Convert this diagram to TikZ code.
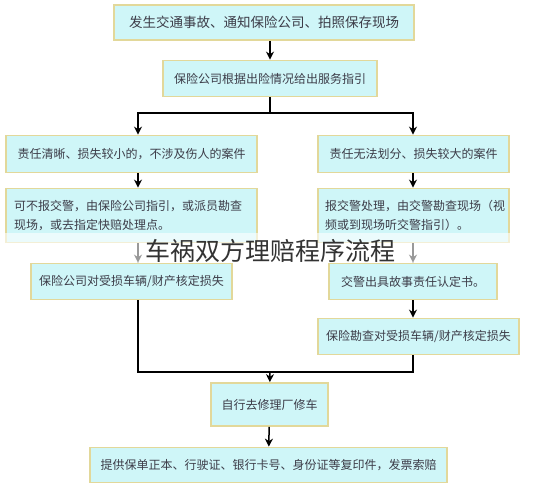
\documentclass[tikz,border=0pt]{standalone}
\usepackage{fontspec}
\setmainfont{Noto Sans CJK SC}
\usepackage{tikz}
\usetikzlibrary{arrows, arrows.meta, positioning}
\definecolor{boxfill}{HTML}{CFF6F8}
\definecolor{boxline}{HTML}{E2D89A}
\definecolor{boxtext}{HTML}{3C3C48}
\tikzstyle{box} = [rectangle, draw=boxline, line width=1.8pt, fill=boxfill, text=boxtext, font=\fontsize{12}{19}\selectfont, inner sep=2pt]
\tikzstyle{arrow} = [line width=1.5pt,->,>={Stealth[length=8pt,width=8pt]}]
\tikzstyle{line} = [line width=1.5pt]

\begin{document}
\begin{tikzpicture}[x=1pt,y=-1pt]
\useasboundingbox (0,0) rectangle (543,490);
\fill [white] (0,0) rectangle (543,490);

\coordinate (lc) at (138,0);
\coordinate (rc) at (413,0);

\node [box, minimum width=300, minimum height=35, font=\fontsize{13.5}{16}\selectfont] (a) at (264,22.5) {发生交通事故、通知保险公司、拍照保存现场};
\node [box, minimum width=214, minimum height=36] (b) at (270,78.5) {保险公司根据出险情况给出服务指引};

\node [box, minimum width=251, minimum height=37] (l1) at (131.5,154) {责任清晰、损失较小的，不涉及伤人的案件};
\node [box, minimum width=191, minimum height=37] (r1) at (413.5,154) {责任无法划分、损失较大的案件};

\node [box, minimum width=251, minimum height=54, text width=235, align=left] (l2) at (131.5,215.5) {可不报交警，由保险公司指引，或派员勘查\\现场，或去指定快赔处理点。};
\node [box, minimum width=191, minimum height=54, text width=177, align=left] (r2) at (413.5,215.5) {报交警处理，由交警勘查现场（视\\频或到现场听交警指引）。};

\node [box, minimum width=201, minimum height=36] (l3) at (131.5,281.5) {保险公司对受损车辆/财产核定损失};
\node [box, minimum width=168, minimum height=36] (r3) at (413,281.5) {交警出具故事责任认定书。};
\node [box, minimum width=201, minimum height=36] (r4) at (418.5,336.5) {保险勘查对受损车辆/财产核定损失};

\node [box, minimum width=117, minimum height=43] (e) at (269.5,404.5) {自行去修理厂修车};
\node [box, minimum width=357, minimum height=35] (f) at (268.5,465) {提供保单正本、行驶证、银行卡号、身份证等复印件，发票索赔};

\coordinate (split) at (270,113);
\coordinate (join) at (270,372);

\draw [arrow] (a.south -| b) to (b);
\draw [line] (b) to (split);
\draw [arrow] (split) -| (l1.north -| lc);
\draw [arrow] (split) -| (r1.north -| rc);

\draw [arrow] (l1.south -| lc) to (l2.north -| lc);
\draw [arrow] (r1.south -| rc) to (r2.north -| rc);
\draw [arrow] (l2.south -| lc) to (l3.north -| lc);
\draw [arrow] (r2.south -| rc) to (r3.north -| rc);
\draw [arrow] (r3.south -| rc) to (r4.north -| rc);

\draw [line] (l3.south -| lc) |- (join);
\draw [line] (r4.south -| rc) |- (join);
\draw [arrow] (join) to (e);
\draw [arrow] (e) to (f);

% title over a pale band
\fill [white, opacity=0.6] (0,233) rectangle (543,262);
\node [text=black!80, font=\fontsize{25}{28}\selectfont] (title) at (270,251) {车祸双方理赔程序流程};
\end{tikzpicture}
\end{document}
